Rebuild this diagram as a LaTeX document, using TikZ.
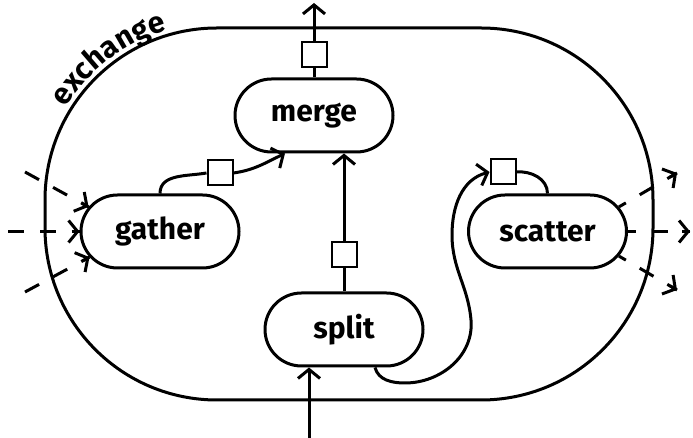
\documentclass[tikz,border=0pt]{standalone}
\usepackage{fontspec}
\setmainfont{Fira Sans}
\usetikzlibrary{arrows.meta,shapes.misc,decorations.text,calc}

\begin{document}
\begin{tikzpicture}[x=1pt,y=1pt,
  line width=3pt,
  proc/.style={rounded rectangle, draw, line width=3pt,
    minimum width=158pt, minimum height=73pt, inner sep=0pt,
    font=\bfseries\fontsize{30}{36}\selectfont},
  port/.style={draw, fill=white, line width=2pt, minimum size=25pt, inner sep=0pt},
  flow/.style={-{Straight Barb[length=9pt,width=22pt]}},
  fan/.style={dash pattern=on 16pt off 16pt},
]
\useasboundingbox (0,0) rectangle (693,438);

% enclosing exchange boundary
\draw[rounded corners=172pt] (45,38) rectangle (653,410);
\coordinate (arcc) at (217,238);
\path[decorate, decoration={text along path,
    text={|\bfseries\fontsize{30}{36}\selectfont|exchange}, text align=center}]
  ([shift={(160:177)}]arcc) arc[start angle=160, end angle=95, radius=177];

% processes
\node[proc] (merge)   at (314,322.5) {merge};
\node[proc] (gather)  at (160,206.5) {gather};
\node[proc] (scatter) at (547.5,206.5) {scatter};
\node[proc] (split)   at (344,108.5) {split};

% ports
\node[port] (msq) at (314,383) {};
\node[port] (ssq) at (344,183) {};
\node[port] (gsq) at (220,265) {};
\node[port] (csq) at (503,266) {};

% free ends
\coordinate (mout) at (314,435);
\coordinate (sin)  at (309,0);
\coordinate (gin1) at (25,266);
\coordinate (gin2) at (8,206.5);
\coordinate (gin3) at (25,146);
\coordinate (sout1) at (677,265);
\coordinate (sout2) at (690,206.5);
\coordinate (sout3) at (677,148);

% merge output
\draw (merge.north) -- (msq.south);
\draw[flow] (msq.north) -- (mout);

% split input and split -> merge
\draw[flow] (sin) -- (sin |- split.south);
\draw (split.north) -- (ssq.south);
\draw[flow] (ssq.north) -- (ssq.north |- merge.south);

% gather -> merge
\draw (gather.north) to[out=90,in=190] (gsq.west);
\draw[flow] (gsq.east) to[out=8,in=205] ([xshift=-29pt]merge.south);

% split -> scatter
\draw[flow] ([xshift=31pt]split.south) to[out=-75,in=180] (405,55)
  to[out=0,in=-85] (471,118) to[out=95,in=-90] (452,203)
  to[out=90,in=195] (csq.west);
\draw (csq.east) to[out=5,in=90] (scatter.north);

% incoming fan to gather (dashed shaft, solid head)
\foreach \s/\t in {gin1/gather.161, gin2/gather.west, gin3/gather.200} {
  \draw[fan] (\s) -- (\t);
  \draw[flow] ($(\t)!8pt!(\s)$) -- (\t);
}

% outgoing fan from scatter
\foreach \s/\t in {scatter.19/sout1, scatter.east/sout2, scatter.-19/sout3} {
  \draw[fan, dash phase=8pt] (\s) -- (\t);
  \draw[flow] ($(\t)!8pt!(\s)$) -- (\t);
}
\end{tikzpicture}
\end{document}
